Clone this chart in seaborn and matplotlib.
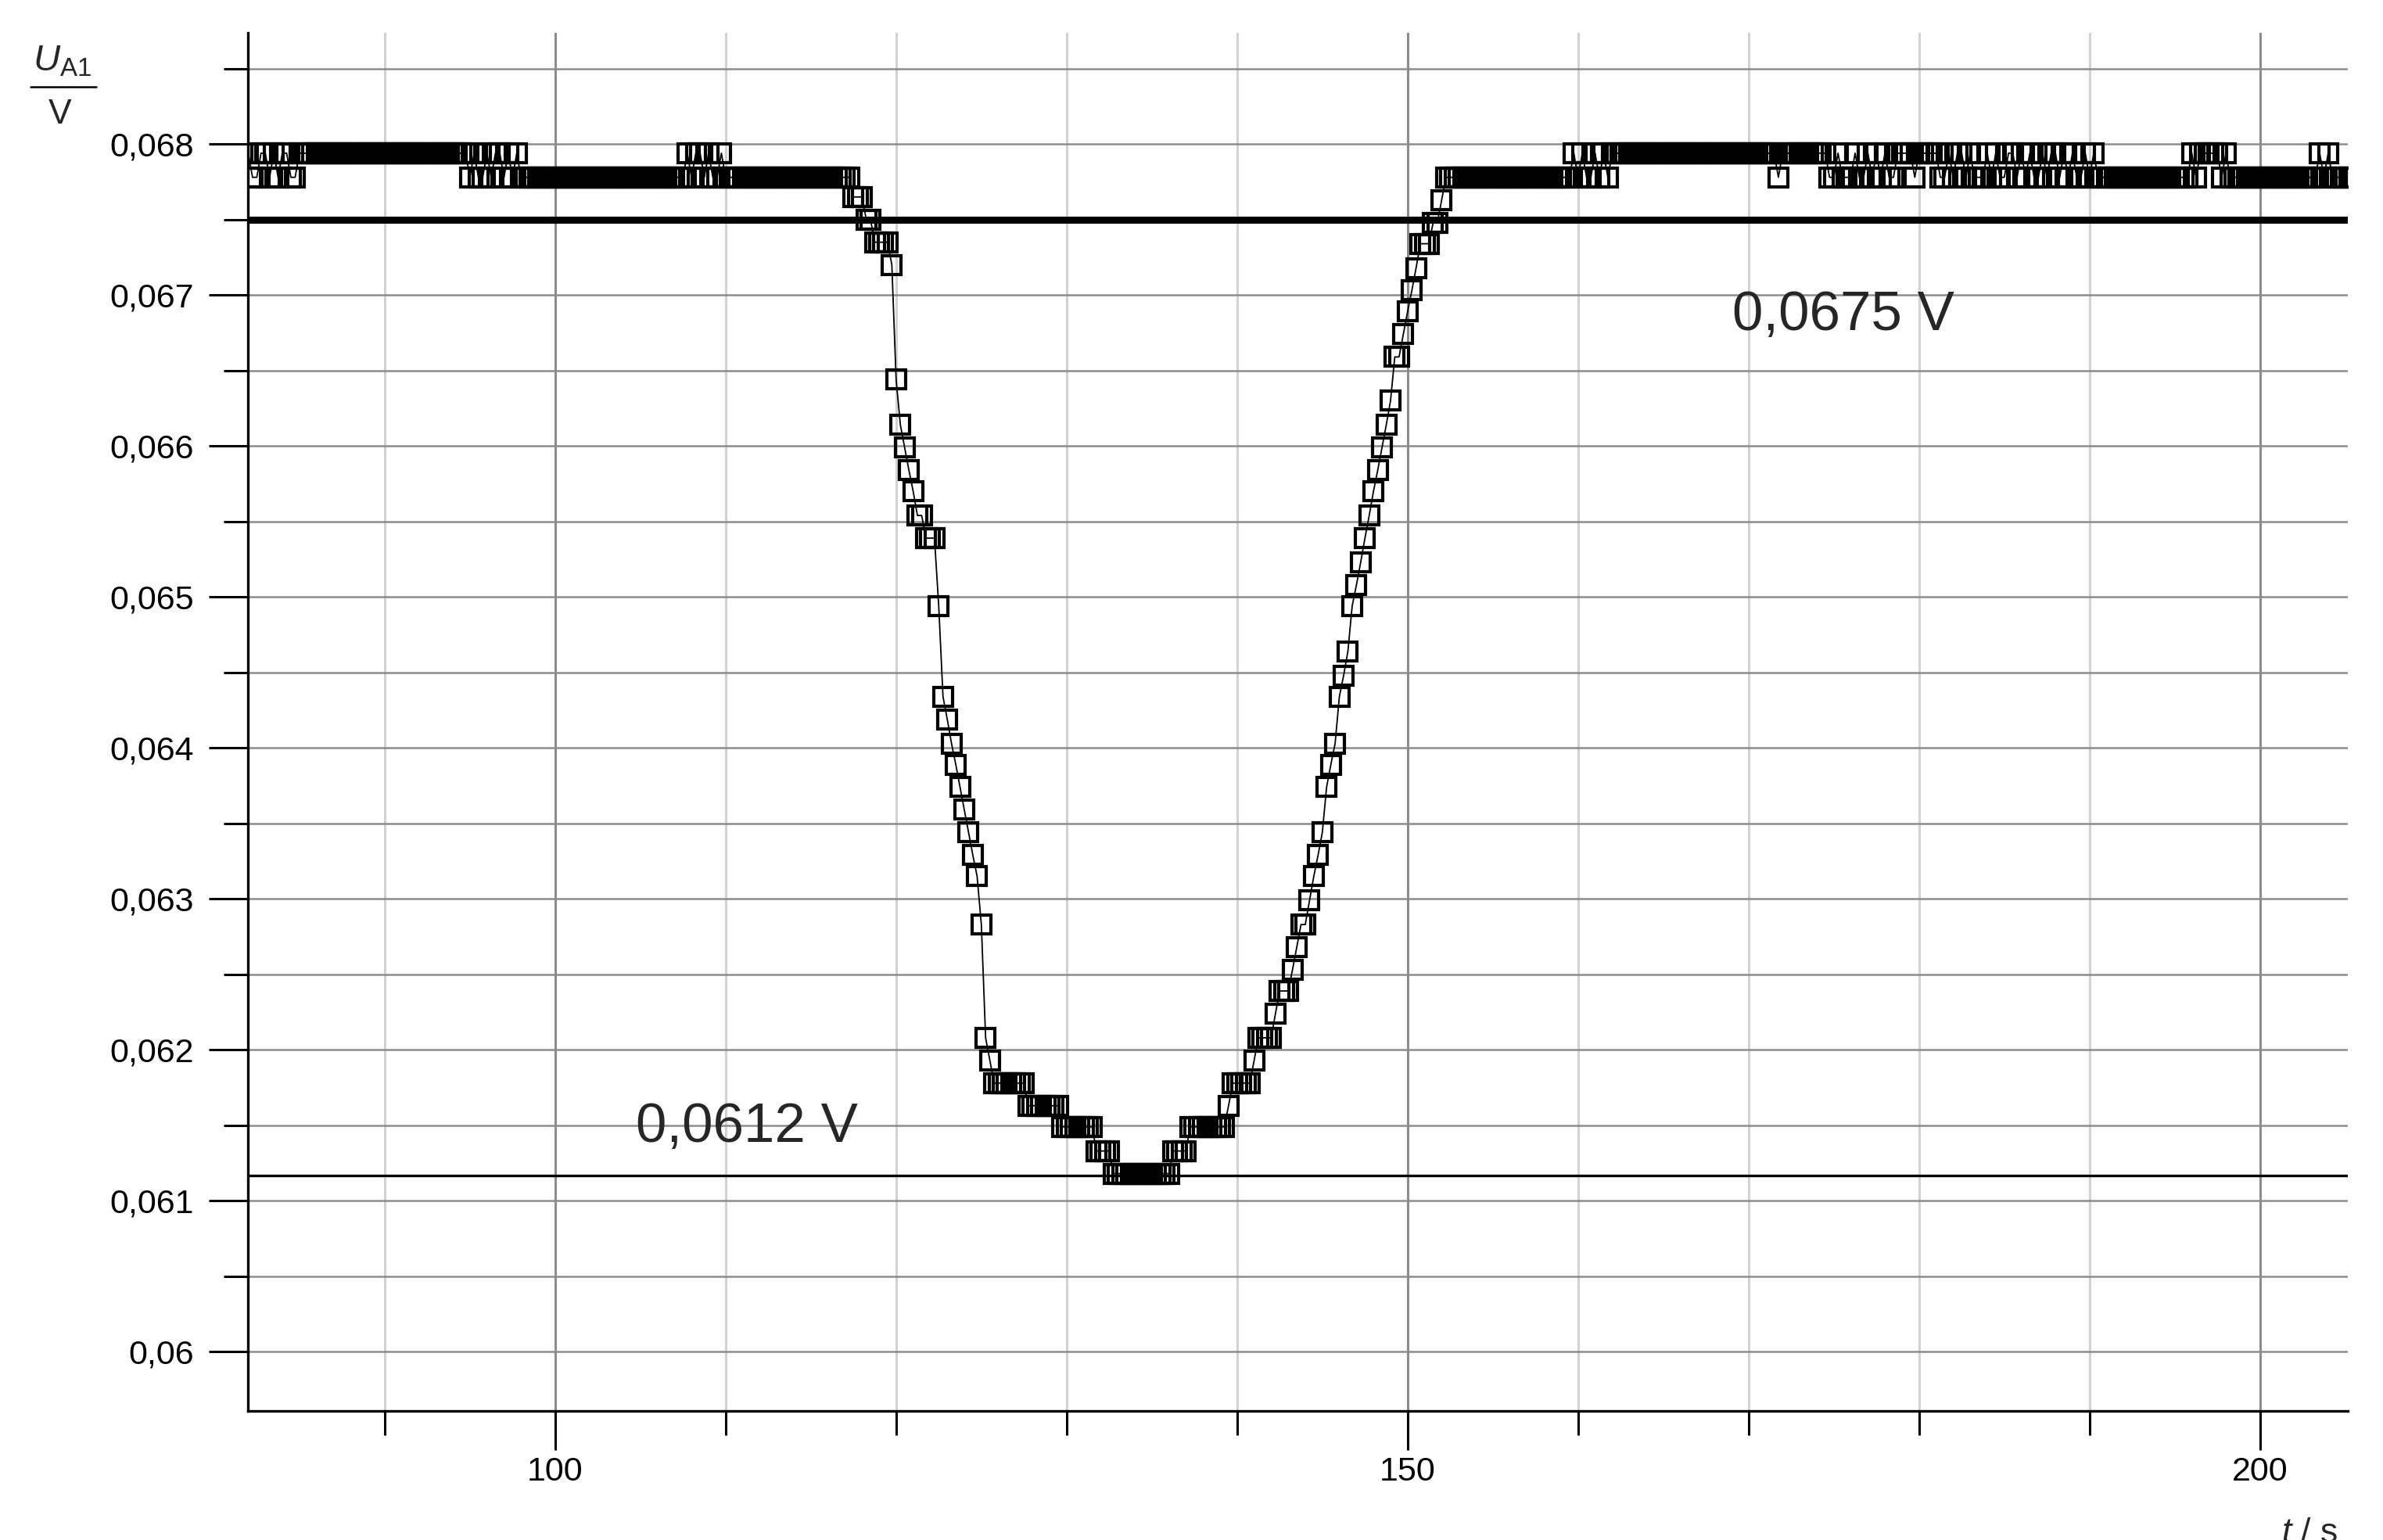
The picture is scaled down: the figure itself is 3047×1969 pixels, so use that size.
import numpy as np
import pandas as pd
import seaborn as sns
import matplotlib.pyplot as plt
from matplotlib.ticker import MultipleLocator, FuncFormatter
from matplotlib.lines import Line2D

# two quantisation levels of the flat parts (V)
HIGH = 0.06794
LOW = 0.06778

# sampling of the recording
t_start = 82.0
dt = 0.25

# flat part before the dip: run lengths, alternating HIGH / LOW (starting with HIGH)
left_runs = [1, 2, 2, 1, 1, 1, 2, 2, 40,
             1, 1, 2, 1, 1, 2, 1, 1, 1, 1,
             39,
             1, 1, 2, 1, 1, 2, 1,
             30]

# the dip itself: level (V) and number of samples at that level
dip_levels = [0.06765, 0.06750, 0.06735, 0.06720, 0.06644, 0.06614, 0.06599, 0.06584,
              0.06570, 0.06554, 0.06539, 0.06494, 0.06434, 0.06419, 0.06403, 0.06389,
              0.06374, 0.06359, 0.06344, 0.06329, 0.06315, 0.06283, 0.06208, 0.06193,
              0.06178, 0.06163, 0.06149, 0.06133, 0.06118, 0.06133, 0.06149, 0.06163,
              0.06178, 0.06193, 0.06208, 0.06224, 0.06239, 0.06253, 0.06268, 0.06283,
              0.06299, 0.06315, 0.06329, 0.06344, 0.06374, 0.06389, 0.06403, 0.06434,
              0.06448, 0.06464, 0.06494, 0.06508, 0.06523, 0.06539, 0.06554, 0.06570,
              0.06584, 0.06599, 0.06614, 0.06630, 0.06659, 0.06674, 0.06689, 0.06703,
              0.06718, 0.06734, 0.06748, 0.06763]
dip_counts = [3, 2, 4, 1, 1, 1, 1, 1,
              1, 2, 3, 1, 1, 1, 1, 1,
              1, 1, 1, 1, 1, 1, 1, 1,
              8, 8, 8, 4, 14, 4, 9, 1,
              5, 1, 4, 1, 3, 1, 1, 2,
              1, 1, 1, 1, 1, 1, 1, 1,
              1, 1, 1, 1, 1, 1, 1, 1,
              1, 1, 1, 1, 2, 1, 1, 1,
              1, 3, 2, 1]

# flat part after the dip: run lengths, alternating LOW / HIGH (starting with LOW)
right_runs = [30, 1, 1, 1, 2, 1, 1, 1, 1, 39, 1, 11,
              2, 1, 3, 1, 2, 1, 1, 1, 1, 1, 2,
              4, 1, 5,
              2, 1, 1, 2, 1, 1, 3, 1, 1, 1, 2, 2, 1, 1, 1, 1, 2, 1, 1, 2, 1, 1, 1, 1, 2, 1, 1, 1,
              22, 1, 1, 5, 1, 1, 21, 1, 1, 1, 6]

upper_mark = 0.0675
lower_mark = 0.06117
upper_label = '0,0675 V'
lower_label = '0,0612 V'


def expand_alternating(runs, first, second):
    levels = [first if k % 2 == 0 else second for k in range(len(runs))]
    return np.repeat(levels, runs)


def comma_fmt(v, pos):
    s = '{:.4f}'.format(v).rstrip('0').rstrip('.')
    return s.replace('.', ',')


def main():
    u = np.concatenate([
        expand_alternating(left_runs, HIGH, LOW),
        np.repeat(dip_levels, dip_counts),
        expand_alternating(right_runs, LOW, HIGH),
    ])
    t = t_start + dt * np.arange(len(u))
    df = pd.DataFrame({'t': t, 'U': u})

    sns.set_style('ticks')
    plt.rcParams['font.family'] = ['Liberation Sans', 'DejaVu Sans']
    plt.rcParams['mathtext.fontset'] = 'custom'
    plt.rcParams['mathtext.rm'] = 'Liberation Sans'
    plt.rcParams['mathtext.it'] = 'Liberation Sans:italic'

    W, H = 3047, 1969
    fig = plt.figure(figsize=(W / 100, H / 100), dpi=100)
    ax = fig.add_axes([317 / W, (H - 1804) / H, (3002 - 317) / W, (1804 - 42) / H])

    ax.set_axisbelow(True)
    ax.grid(axis='y', which='both', color='#8c8c8c', lw=1.8)
    ax.grid(axis='x', which='major', color='#8c8c8c', lw=2.2)
    ax.grid(axis='x', which='minor', color='#d2d2d2', lw=2.2)

    sns.lineplot(data=df, x='t', y='U', ax=ax, estimator=None, sort=False,
                 color='black', linewidth=1.3, marker='s', markersize=17.6,
                 markerfacecolor='none', markeredgecolor='black', markeredgewidth=3.0)
    # make sure the hollow squares keep the heavy outline
    line = ax.lines[-1]
    line.set_markersize(17.6)
    line.set_markeredgewidth(3.0)
    line.set_markerfacecolor('none')
    line.set_markeredgecolor('black')

    ax.axhline(upper_mark, color='black', lw=6.5, zorder=3)
    ax.axhline(lower_mark, color='black', lw=2.4, zorder=3)

    ax.text(169.04, 0.06677, upper_label, fontsize=51, ha='left', va='baseline')
    ax.text(104.73, 0.06139, lower_label, fontsize=51, ha='left', va='baseline')

    ax.set_xlim(81.98, 205.15)
    ax.set_ylim(0.059608, 0.068737)
    ax.xaxis.set_major_locator(MultipleLocator(50))
    ax.xaxis.set_minor_locator(MultipleLocator(10))
    ax.yaxis.set_major_locator(MultipleLocator(0.001))
    ax.yaxis.set_minor_locator(MultipleLocator(0.0005))
    ax.yaxis.set_major_formatter(FuncFormatter(comma_fmt))
    ax.xaxis.set_major_formatter(FuncFormatter(lambda v, p: '%d' % v))

    ax.tick_params(axis='both', which='major', length=36, width=2.2, color='black',
                   labelsize=31, labelcolor='black', direction='out')
    ax.tick_params(axis='both', which='minor', length=22, width=2.2, color='black', direction='out')
    ax.tick_params(axis='y', which='major', pad=13.7)
    ax.tick_params(axis='x', which='major', pad=5.8)

    sns.despine(ax=ax)
    for side in ['left', 'bottom']:
        ax.spines[side].set_linewidth(2.4)
        ax.spines[side].set_color('black')
    ax.set_xlabel('')
    ax.set_ylabel('')

    # axis quantity as a fraction U_A1 / V
    fig.text(79 / W, 1 - 90 / H, r'$U_{\mathrm{A1}}$', fontsize=34, ha='center', va='baseline')
    fig.add_artist(Line2D([39 / W, 123 / W], [1 - 111 / H, 1 - 111 / H], color='black', lw=1.8))
    fig.text(77 / W, 1 - 158 / H, 'V', fontsize=32, ha='center', va='baseline')
    fig.text(2953 / W, 1 - 1940 / H, r'$t$ / s', fontsize=32, ha='center', va='top')

    fig.savefig('out.png', dpi=100)


if __name__ == '__main__':
    main()
